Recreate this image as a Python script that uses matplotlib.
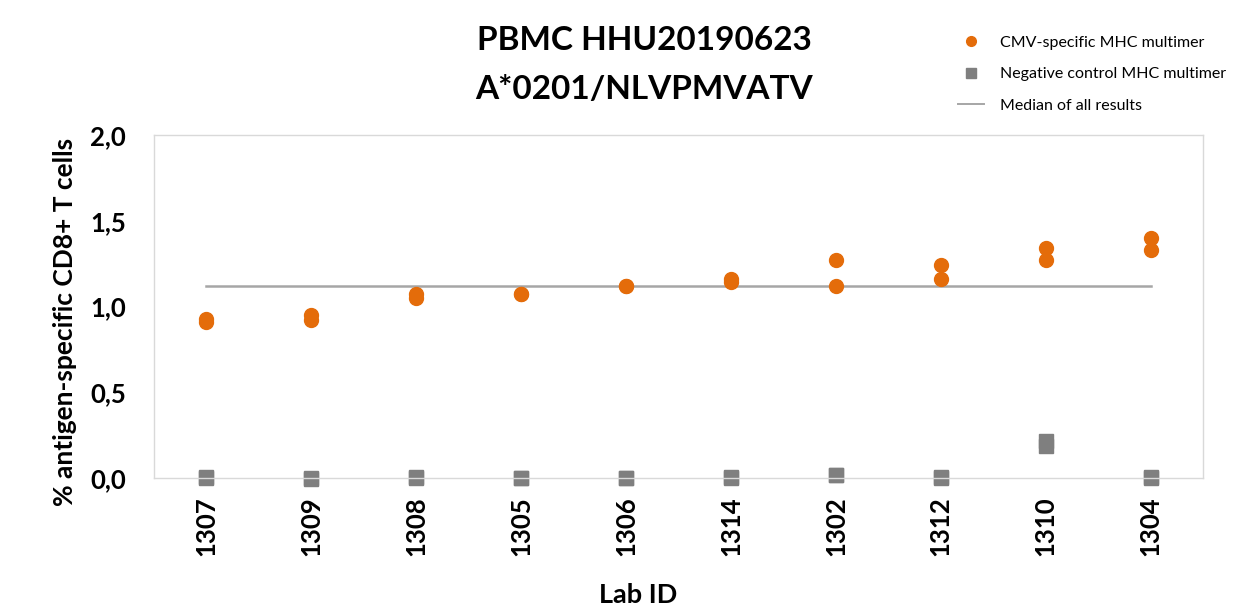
import numpy as np
import matplotlib.pyplot as plt
from matplotlib.ticker import FuncFormatter

plt.rcParams["font.family"] = ["Lato", "DejaVu Sans"]

lab_ids = ["1307", "1309", "1308", "1305", "1306", "1314", "1302", "1312", "1310", "1304"]

# two replicate measurements per lab (% antigen-specific CD8+ T cells)
cmv_rep1 = [0.93, 0.95, 1.07, 1.07, 1.12, 1.16, 1.27, 1.24, 1.34, 1.40]
cmv_rep2 = [0.91, 0.92, 1.05, 1.07, 1.12, 1.14, 1.12, 1.16, 1.27, 1.33]
neg_rep1 = [0.005, 0.00, 0.005, 0.00, 0.00, 0.005, 0.02, 0.005, 0.215, 0.005]
neg_rep2 = [0.00, -0.003, 0.00, 0.00, -0.002, 0.00, 0.015, 0.00, 0.185, 0.00]

median_all = np.median(cmv_rep1 + cmv_rep2)

orange = "#E46C0A"
grey_sq = "#7F7F7F"
grey_line = "#A6A6A6"

fig = plt.figure(figsize=(12.42, 6.08), dpi=100)
ax = fig.add_axes([154 / 1242, 1 - 478 / 608, 1049 / 1242, 343 / 608])

x = np.arange(len(lab_ids))
ax.plot(x, [median_all] * len(x), color=grey_line, linewidth=1.8, zorder=1,
        label="Median of all results")
for rep in (neg_rep1, neg_rep2):
    ax.plot(x, rep, linestyle="none", marker="s", markersize=10.5,
            color=grey_sq, zorder=2)
for rep in (cmv_rep1, cmv_rep2):
    ax.plot(x, rep, linestyle="none", marker="o", markersize=10,
            color=orange, zorder=3)

ax.set_xlim(-0.5, len(lab_ids) - 0.5)
ax.set_ylim(0, 2.0)
ax.set_yticks([0, 0.5, 1.0, 1.5, 2.0])
ax.yaxis.set_major_formatter(FuncFormatter(lambda v, _: f"{v:.1f}".replace(".", ",")))
ax.set_xticks(x)
ax.set_xticklabels(lab_ids, rotation=90, fontsize=18.5, fontweight="bold")
for lab in ax.get_yticklabels():
    lab.set_fontsize(18.5)
    lab.set_fontweight("bold")
ax.tick_params(axis="both", length=0)
ax.tick_params(axis="x", pad=13)
ax.tick_params(axis="y", pad=20)
for sp in ax.spines.values():
    sp.set_color("#D9D9D9")
    sp.set_linewidth(1.0)
for ln in ax.get_lines():
    ln.set_clip_on(False)

ax.set_ylabel("% antigen-specific CD8+ T cells", fontsize=19, fontweight="bold",
              va="center")
ax.yaxis.set_label_coords((65 - 154) / 1049, (478 - 322) / 343)
fig.text(638 / 1242, 1 - 595 / 608, "Lab ID", ha="center", va="center",
         fontsize=19.5, fontweight="bold")

fig.text(644 / 1242, 1 - 65 / 608, "PBMC HHU20190623\nA*0201/NLVPMVATV",
         ha="center", va="center", fontsize=24, fontweight="bold", linespacing=1.85)

handles = [
    plt.Line2D([], [], linestyle="none", marker="o", markersize=7, color=orange),
    plt.Line2D([], [], linestyle="none", marker="s", markersize=7, color=grey_sq),
    plt.Line2D([], [], color=grey_line, linewidth=1.4),
]
labels = ["CMV-specific MHC multimer", "Negative control MHC multimer", "Median of all results"]
fig.legend(handles, labels, loc="upper left", bbox_to_anchor=(952 / 1242, 1 - 29 / 608),
           frameon=False, fontsize=11.5, handlelength=1.6, handletextpad=1.0,
           labelspacing=1.1, borderaxespad=0)

fig.savefig("out.png", dpi=100, facecolor="white")
